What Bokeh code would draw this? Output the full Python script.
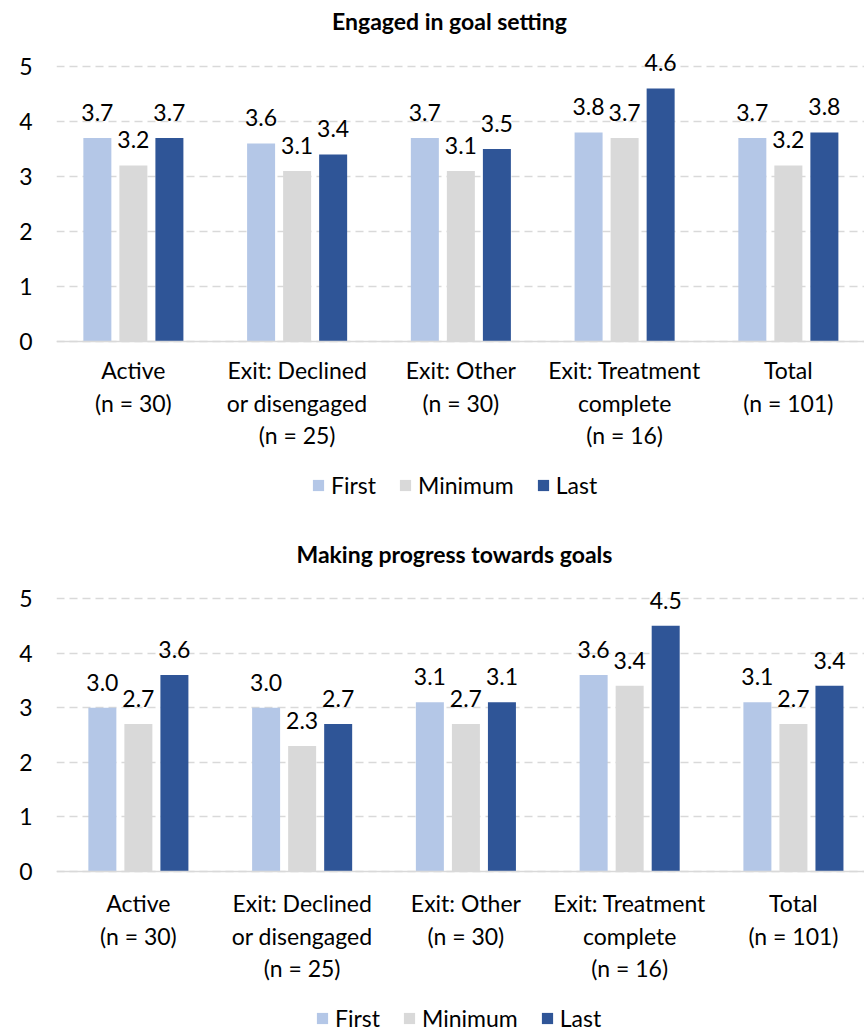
import numpy as np
from bokeh.plotting import figure
from bokeh.layouts import column
from bokeh.core.properties import value
from bokeh.models import ColumnDataSource, LabelSet, Label, Legend, LegendItem, FixedTicker, Range1d
from bokeh.embed import file_html
from bokeh.resources import INLINE

categories = ["Active\n(n = 30)", "Exit: Declined\nor disengaged\n(n = 25)", "Exit: Other\n(n = 30)",
              "Exit: Treatment\ncomplete\n(n = 16)", "Total\n(n = 101)"]
series = ["First", "Minimum", "Last"]
colors = ["#b4c7e7", "#d9d9d9", "#2f5597"]

goal_first = [3.7, 3.6, 3.7, 3.8, 3.7]
goal_min = [3.2, 3.1, 3.1, 3.7, 3.2]
goal_last = [3.7, 3.4, 3.5, 4.6, 3.8]

prog_first = [3.0, 3.0, 3.1, 3.6, 3.1]
prog_min = [2.7, 2.3, 2.7, 3.4, 2.7]
prog_last = [3.6, 2.7, 3.1, 4.5, 3.4]

y_ticks = [0, 1, 2, 3, 4, 5]

FONT = "Lato"
FS = "23px"


def make_chart(title, data, x_start, x_end, y_start, y_end, title_y, legend_loc, cat_standoff):
    p = figure(frame_width=808, frame_height=516, output_backend="svg", toolbar_location=None,
               title=None, x_range=Range1d(x_start, x_end), y_range=Range1d(y_start, y_end),
               min_border_left=56, min_border_right=0, min_border_top=0, min_border_bottom=0)
    p.outline_line_color = None
    p.background_fill_color = None
    p.border_fill_color = None

    p.add_layout(Label(x=1.93, y=title_y, text=title, text_align="center", text_baseline="middle",
                       text_font=FONT, text_font_size="23px", text_font_style="bold",
                       text_color="#000000"))

    x = np.arange(len(categories))
    offsets = [-0.22, 0.0, 0.22]
    items = []
    for vals, name, col, off in zip(data, series, colors, offsets):
        src = ColumnDataSource(dict(x=x + off, top=vals, lab=[f"{v:.1f}" for v in vals]))
        r = p.vbar(x="x", top="top", width=0.171, bottom=0, source=src,
                   fill_color=col, line_color=None)
        items.append(LegendItem(label=name, renderers=[r]))
        labels = LabelSet(x="x", y="top", text="lab", source=src, text_align="center",
                          text_baseline="alphabetic", y_offset=17, text_font=value(FONT),
                          text_font_size=value(FS), text_color="#000000")
        p.add_layout(labels)

    p.xgrid.grid_line_color = None
    p.ygrid.ticker = FixedTicker(ticks=y_ticks)
    p.ygrid.grid_line_color = "#d9d9d9"
    p.ygrid.grid_line_dash = "8 5"
    p.ygrid.grid_line_width = 1.3

    p.yaxis.ticker = FixedTicker(ticks=y_ticks)
    p.yaxis.axis_line_color = None
    p.yaxis.major_tick_line_color = None
    p.yaxis.minor_tick_line_color = None
    p.yaxis.major_tick_out = 0
    p.yaxis.minor_tick_out = 0
    p.yaxis.major_label_standoff = 24
    p.yaxis.major_label_text_font = FONT
    p.yaxis.major_label_text_font_size = FS
    p.yaxis.major_label_text_color = "#000000"

    p.xaxis.fixed_location = 0
    p.xaxis.ticker = FixedTicker(ticks=list(range(len(categories))))
    p.xaxis.major_label_overrides = {i: c for i, c in enumerate(categories)}
    p.xaxis.axis_line_color = "#d9d9d9"
    p.xaxis.axis_line_width = 1.5
    p.xaxis.major_tick_line_color = None
    p.xaxis.minor_tick_line_color = None
    p.xaxis.major_tick_out = 0
    p.xaxis.minor_tick_out = 0
    p.xaxis.major_label_standoff = cat_standoff
    p.xaxis.major_label_text_font = FONT
    p.xaxis.major_label_text_font_size = FS
    p.xaxis.major_label_text_color = "#000000"
    p.xaxis.major_label_text_line_height = 1.15

    legend = Legend(items=items, orientation="horizontal", location=legend_loc,
                    label_text_font=FONT, label_text_font_size=FS, label_text_color="#000000",
                    glyph_width=14, glyph_height=14, label_standoff=6, spacing=22,
                    border_line_color=None, background_fill_alpha=0, margin=0, padding=2)
    p.add_layout(legend)
    return p


p1 = make_chart("Engaged in goal setting", [goal_first, goal_min, goal_last],
                -0.4695, 4.465, -3.182, 6.2, 5.836, (255, 17), 15)
p2 = make_chart("Making progress towards goals", [prog_first, prog_min, prog_last],
                -0.5, 4.434, -2.949, 6.502, 5.824, (259, 0), 18)

layout = column(p1, p2, spacing=0)
open("out.html", "w").write(file_html(layout, INLINE))
